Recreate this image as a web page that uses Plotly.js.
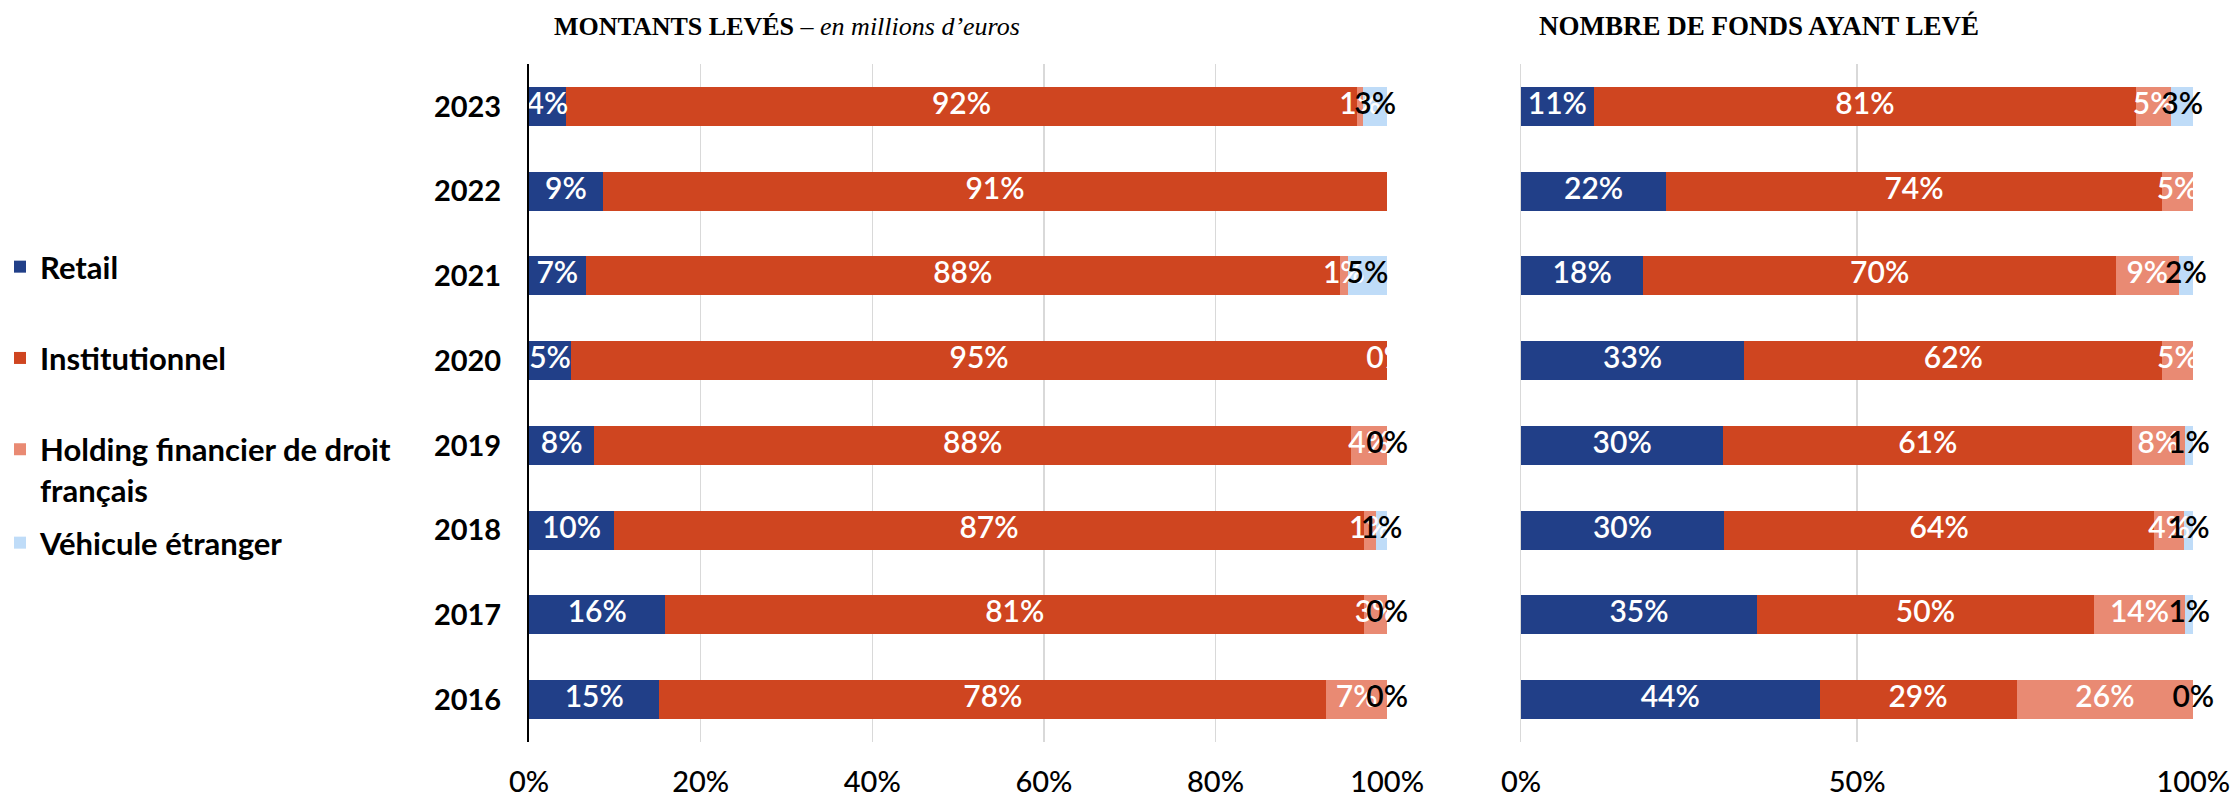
<!DOCTYPE html>
<html>
<head>
<meta charset="utf-8">
<script src="https://cdn.plot.ly/plotly-3.0.1.min.js"></script>
<style>html,body{margin:0;padding:0;background:#fff}#chart{width:2237px;height:803px}</style>
</head>
<body>
<div id="chart"></div>
<script>
// ---- DATA ----
const years = ['2023','2022','2021','2020','2019','2018','2017','2016'];
const seriesNames = ['Retail','Institutionnel','Holding financier de droit<br>français','Véhicule étranger'];

// Montants levés (% des montants)
const montantsRetail         = [4.3, 8.6, 6.6, 4.9, 7.6, 9.9, 15.9, 15.2];
const montantsInstitutionnel = [92.2, 91.4, 87.9, 95.1, 88.2, 87.4, 81.4, 77.7];
const montantsHolding        = [0.7, null, 0.9, 0, 4.2, 1.4, 2.7, 7.1];
const montantsVehicule       = [2.8, null, 4.6, null, 0, 1.3, 0, 0];

// Nombre de fonds ayant levé (% des fonds)
const fondsRetail         = [10.8, 21.6, 18.2, 33.2, 30.1, 30.2, 35.1, 44.4];
const fondsInstitutionnel = [80.7, 73.7, 70.3, 62.2, 60.8, 64.0, 50.1, 29.3];
const fondsHolding        = [5.2, 4.7, 9.3, 4.6, 7.8, 4.4, 13.6, 26.3];
const fondsVehicule       = [3.3, null, 2.2, null, 1.3, 1.4, 1.2, 0];

const leftTickVals  = [0, 20, 40, 60, 80, 100];
const leftTickText  = ['0%', '20%', '40%', '60%', '80%', '100%'];
const rightTickVals = [0, 50, 100];
const rightTickText = ['0%', '50%', '100%'];

const titleLeft  = '<b>MONTANTS LEVÉS</b> – <i>en millions d’euros</i>';
const titleRight = '<b>NOMBRE DE FONDS AYANT LEVÉ</b>';

// ---- STYLE ----
const colors = ['#213f88', '#cf4520', '#e98a73', '#bfdcf8'];
const labelColors = ['#ffffff', '#ffffff', '#ffffff', '#000000'];
const legendOf = ['legend', 'legend', 'legend', 'legend2'];
const W = 2237, H = 803;
const sans = 'Lato, "DejaVu Sans", sans-serif';
const serif = '"Liberation Serif", "DejaVu Serif", serif';

function buildTraces(seriesList, xa, ya, showLegend) {
  const traces = [];
  const cum = years.map(() => 0);
  const labelTraces = [];
  seriesList.forEach((vals, i) => {
    traces.push({
      type: 'bar', orientation: 'h',
      x: vals, y: years, xaxis: xa, yaxis: ya,
      name: seriesNames[i], legendgroup: 'g' + i, showlegend: showLegend,
      legend: legendOf[i],
      marker: {color: colors[i], line: {width: 0}},
      hoverinfo: 'skip'
    });
    const cx = [], txt = [];
    vals.forEach((v, k) => {
      if (v == null) { cx.push(null); txt.push(''); return; }
      cx.push(cum[k] + v / 2);
      txt.push(Math.round(v) + '%');
      cum[k] += v;
    });
    labelTraces.push({
      type: 'scatter', mode: 'text', x: cx, y: years, text: txt,
      xaxis: xa, yaxis: ya, showlegend: false, hoverinfo: 'skip',
      cliponaxis: false,
      textfont: {family: sans, size: 30, color: labelColors[i], weight: 600},
      textposition: 'middle center'
    });
  });
  return traces.concat(labelTraces);
}

const data = []
  .concat(buildTraces([montantsRetail, montantsInstitutionnel, montantsHolding, montantsVehicule], 'x', 'y', true))
  .concat(buildTraces([fondsRetail, fondsInstitutionnel, fondsHolding, fondsVehicule], 'x2', 'y2', false));

const yDomain = [1 - 742 / H, 1 - 64 / H];
const gridColor = '#d9d9d9';
const legendFont = {family: sans, size: 31, color: '#000', weight: 'bold'};

const layout = {
  width: W, height: H,
  margin: {l: 0, r: 0, t: 0, b: 0},
  paper_bgcolor: '#ffffff', plot_bgcolor: 'rgba(0,0,0,0)',
  barmode: 'stack', bargap: 0.54,
  font: {family: sans, color: '#000000'},
  showlegend: true,
  xaxis: {
    domain: [529 / W, 1388 / W], anchor: 'y', range: [0, 100.1],
    tickvals: leftTickVals, ticktext: leftTickText,
    showgrid: true, gridcolor: gridColor, gridwidth: 1.5, zeroline: false,
    ticks: '', ticklabelstandoff: 20,
    tickfont: {family: sans, size: 29, color: '#000', weight: 500},
    fixedrange: true
  },
  yaxis: {
    domain: yDomain, anchor: 'x', type: 'category',
    categoryorder: 'array', categoryarray: years, autorange: 'reversed',
    showgrid: false, zeroline: false, showline: true, linecolor: '#000', linewidth: 2,
    ticks: '', ticklabelstandoff: 20,
    tickfont: {family: sans, size: 29, color: '#000', weight: 'bold'},
    fixedrange: true
  },
  xaxis2: {
    domain: [1521 / W, 2194 / W], anchor: 'y2', range: [0, 100.1],
    tickvals: rightTickVals, ticktext: rightTickText,
    showgrid: true, gridcolor: gridColor, gridwidth: 1.5, zeroline: false,
    ticks: '', ticklabelstandoff: 20,
    tickfont: {family: sans, size: 29, color: '#000', weight: 500},
    fixedrange: true
  },
  yaxis2: {
    domain: yDomain, anchor: 'x2', type: 'category',
    categoryorder: 'array', categoryarray: years, autorange: 'reversed',
    showgrid: false, zeroline: false, showline: true, linecolor: gridColor, linewidth: 1.5,
    showticklabels: false, ticks: '', fixedrange: true
  },
  legend: {
    x: 0, xanchor: 'left', y: 1 - 240 / H, yanchor: 'top',
    traceorder: 'grouped', tracegroupgap: 48, valign: 'top',
    font: legendFont, bgcolor: 'rgba(0,0,0,0)', borderwidth: 0
  },
  legend2: {
    x: 0, xanchor: 'left', y: 1 - 516 / H, yanchor: 'top',
    traceorder: 'grouped', valign: 'top',
    font: legendFont, bgcolor: 'rgba(0,0,0,0)', borderwidth: 0
  },
  annotations: [
    {xref: 'paper', yref: 'paper', x: 787 / W, y: 1 - 26 / H, xanchor: 'center', yanchor: 'middle',
     text: titleLeft, showarrow: false, font: {family: serif, size: 26, color: '#000'}},
    {xref: 'paper', yref: 'paper', x: 1759 / W, y: 1 - 26 / H, xanchor: 'center', yanchor: 'middle',
     text: titleRight, showarrow: false, font: {family: serif, size: 27, color: '#000'}}
  ]
};

Plotly.newPlot('chart', data, layout, {staticPlot: true, displayModeBar: false});
</script>
</body>
</html>
